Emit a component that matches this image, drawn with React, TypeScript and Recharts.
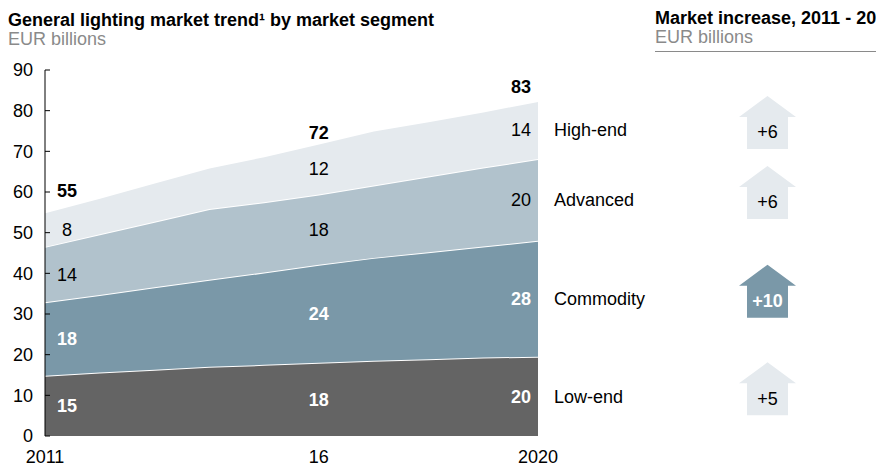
import React from 'react';
import { AreaChart, Area, XAxis, YAxis, ReferenceDot } from 'recharts';

// ---------- data ----------
const years = [2011, 2012, 2013, 2014, 2015, 2016, 2017, 2018, 2019, 2020];
const lowEnd = [14.8, 15.6, 16.3, 17.0, 17.5, 18.0, 18.5, 18.9, 19.3, 19.5];
const commodity = [18.1, 19.1, 20.3, 21.4, 22.7, 24.1, 25.3, 26.3, 27.3, 28.5];
const advanced = [13.6, 14.9, 16.1, 17.4, 17.3, 17.3, 17.8, 18.6, 19.4, 20.1];
const highEnd = [8.5, 9.0, 9.6, 10.2, 11.3, 12.5, 13.5, 13.6, 13.8, 14.3];

const labelYears = [2011, 2016, 2020];
const lowEndLabels = [15, 18, 20];
const commodityLabels = [18, 24, 28];
const advancedLabels = [14, 18, 20];
const highEndLabels = [8, 12, 14];
const totalLabels = [55, 72, 83];

const segmentNames = ['Low-end', 'Commodity', 'Advanced', 'High-end'];
const increases = ['+5', '+10', '+6', '+6'];

const xTicks = [2011, 2016, 2020];
const xTickLabels = ['2011', '16', '2020'];
const yTicks = [0, 10, 20, 30, 40, 50, 60, 70, 80, 90];

// ---------- styles ----------
const FONT = 'Arial, "Liberation Sans", Helvetica, sans-serif';
const FS = 18;
const layerStyles = [
  { key: 'lowEnd', fill: '#646464', text: '#ffffff', bold: true, arrow: '#e5eaee', arrowText: '#000', arrowBold: false },
  { key: 'commodity', fill: '#7a98a8', text: '#ffffff', bold: true, arrow: '#7a98a8', arrowText: '#ffffff', arrowBold: true },
  { key: 'advanced', fill: '#b1c2cc', text: '#000000', bold: false, arrow: '#e5eaee', arrowText: '#000', arrowBold: false },
  { key: 'highEnd', fill: '#e5eaee', text: '#000000', bold: false, arrow: '#e5eaee', arrowText: '#000', arrowBold: false },
];
const labelDx = [22, 0, -7];
const labelAnchor: Array<'middle' | 'end'> = ['middle', 'middle', 'end'];
const totalLift = [22, 11, 14];

const YTick = (props: any) => {
  const { x, y, payload } = props;
  return (
    <g>
      <line x1={x} x2={x + 5} y1={y} y2={y} stroke="#000" strokeWidth={1} />
      <text x={x - 12} y={y} dy="0.35em" textAnchor="end" fontFamily={FONT} fontSize={FS} fill="#000">
        {payload.value}
      </text>
    </g>
  );
};

const XTick = (props: any) => {
  const { x, y, payload } = props;
  const i = xTicks.indexOf(payload.value);
  return (
    <text x={x} y={y} dy="0.71em" textAnchor="middle" fontFamily={FONT} fontSize={FS} fill="#000">
      {xTickLabels[i]}
    </text>
  );
};

export default function App() {
  const seriesValues = [lowEnd, commodity, advanced, highEnd];
  const seriesLabels = [lowEndLabels, commodityLabels, advancedLabels, highEndLabels];
  const data = years.map((year, i) => ({
    year,
    lowEnd: lowEnd[i],
    commodity: commodity[i],
    advanced: advanced[i],
    highEnd: highEnd[i],
  }));

  const annotations: React.ReactNode[] = [];
  labelYears.forEach((yr, j) => {
    const idx = years.indexOf(yr);
    let base = 0;
    layerStyles.forEach((ls, k) => {
      const v = seriesValues[k][idx];
      const mid = base + v / 2;
      const txt = seriesLabels[k][j];
      annotations.push(
        <ReferenceDot
          key={`l-${j}-${k}`}
          x={yr}
          y={mid}
          r={0}
          shape={(p: any) => (
            <text
              x={p.cx + labelDx[j]}
              y={p.cy}
              dy="0.35em"
              textAnchor={labelAnchor[j]}
              fontFamily={FONT}
              fontSize={FS}
              fontWeight={ls.bold ? 'bold' : 'normal'}
              fill={ls.text}
            >
              {txt}
            </text>
          )}
        />
      );
      base += v;
    });
    annotations.push(
      <ReferenceDot
        key={`t-${j}`}
        x={yr}
        y={base}
        r={0}
        shape={(p: any) => (
          <text
            x={p.cx + labelDx[j]}
            y={p.cy - totalLift[j]}
            dy="0.35em"
            textAnchor={labelAnchor[j]}
            fontFamily={FONT}
            fontSize={FS}
            fontWeight="bold"
            fill="#000"
          >
            {totalLabels[j]}
          </text>
        )}
      />
    );
  });

  // segment names and increase arrows, aligned with the last year's layer middles
  const lastIdx = years.length - 1;
  let base = 0;
  layerStyles.forEach((ls, k) => {
    const v = seriesValues[k][lastIdx];
    const mid = base + v / 2;
    base += v;
    annotations.push(
      <ReferenceDot
        key={`s-${k}`}
        x={years[lastIdx]}
        y={mid}
        r={0}
        shape={(p: any) => {
          const ax = p.cx + 229.5;
          const cy = p.cy;
          const pts = [
            [ax, cy - 34],
            [ax + 28.5, cy - 13],
            [ax + 20.5, cy - 13],
            [ax + 20.5, cy + 19],
            [ax - 20.5, cy + 19],
            [ax - 20.5, cy - 13],
            [ax - 28.5, cy - 13],
          ]
            .map((q) => q.join(','))
            .join(' ');
          return (
            <g>
              <text x={p.cx + 16} y={cy} dy="0.35em" fontFamily={FONT} fontSize={FS} fill="#000">
                {segmentNames[k]}
              </text>
              <polygon points={pts} fill={ls.arrow} />
              <text
                x={ax}
                y={cy + 2}
                dy="0.35em"
                textAnchor="middle"
                fontFamily={FONT}
                fontSize={FS}
                fontWeight={ls.arrowBold ? 'bold' : 'normal'}
                fill={ls.arrowText}
              >
                {increases[k]}
              </text>
            </g>
          );
        }}
      />
    );
  });

  const headText = (left: number, top: number, color: string, bold: boolean, text: string) => (
    <div
      style={{
        position: 'absolute',
        left,
        top,
        fontSize: FS,
        lineHeight: '16px',
        fontWeight: bold ? 'bold' : 'normal',
        whiteSpace: 'nowrap',
        color,
      }}
    >
      {text}
    </div>
  );

  return (
    <div
      style={{
        position: 'absolute',
        left: 0,
        top: 0,
        width: 876,
        height: 468,
        background: '#fff',
        overflow: 'hidden',
        fontFamily: FONT,
      }}
    >
      {headText(8, 11.8, '#000', true, 'General lighting market trend¹ by market segment')}
      {headText(8, 30.8, '#8a8a8a', false, 'EUR billions')}
      {headText(655, 10.2, '#000', true, 'Market increase, 2011 - 20')}
      {headText(655, 29.4, '#8a8a8a', false, 'EUR billions')}
      <div style={{ position: 'absolute', left: 655, top: 51, width: 221, height: 0, borderTop: '1px solid #8a8a8a' }} />
      <div style={{ position: 'absolute', left: 0, top: 0 }}>
        <AreaChart width={876} height={468} data={data} margin={{ top: 70, right: 338, left: 0, bottom: 0 }}>
          <XAxis
            dataKey="year"
            type="number"
            domain={[2011, 2020]}
            ticks={xTicks}
            axisLine={false}
            tickLine={false}
            tickSize={0}
            tickMargin={14}
            height={32}
            tick={<XTick />}
            interval={0}
          />
          <YAxis
            type="number"
            domain={[0, 90]}
            ticks={yTicks}
            width={45}
            axisLine={{ stroke: '#000', strokeWidth: 1 }}
            tickLine={false}
            tickSize={0}
            tickMargin={0}
            tick={<YTick />}
            interval={0}
          />
          {layerStyles.map((ls) => (
            <Area
              key={ls.key}
              dataKey={ls.key}
              stackId="a"
              type="linear"
              fill={ls.fill}
              fillOpacity={1}
              stroke="#ffffff"
              strokeWidth={2}
              isAnimationActive={false}
              dot={false}
              activeDot={false}
            />
          ))}
          {annotations}
        </AreaChart>
      </div>
    </div>
  );
}
